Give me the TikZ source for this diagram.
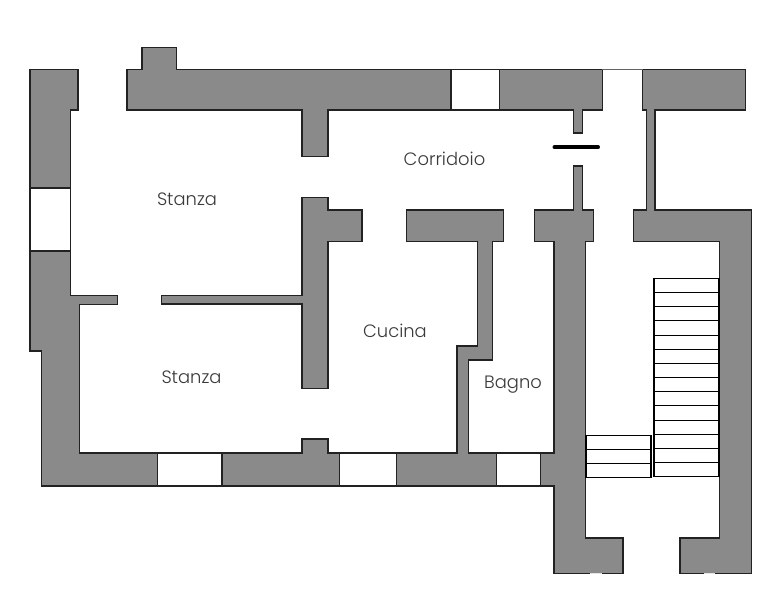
\documentclass[tikz,border=0pt]{standalone}
\usepackage{fontspec}
\setmainfont{Poppins Light}
\begin{document}
\begin{tikzpicture}[x=1pt,y=-1pt,
  wall/.style={fill=wallgray,draw=walledge,line width=1.4pt,line join=miter},
  opening/.style={fill=white,draw=walledge,line width=1.3pt},
  tread/.style={draw=black,line width=1.7pt},
  room/.style={text=labelgray,font=\fontsize{17.9}{20}\selectfont,inner sep=0pt,anchor=base},
  gap/.style={draw=gapgray,line width=1.6pt}]
\definecolor{wallgray}{HTML}{8A8A8A}
\definecolor{walledge}{HTML}{222222}
\definecolor{labelgray}{HTML}{3A3A3A}
\definecolor{gapgray}{HTML}{E4E4E4}
\useasboundingbox (0,0) rectangle (782,600);
\fill[white] (0,0) rectangle (782,600);
% outer left, bottom, partitions and central pier
\draw[wall] (30,69.5) -- (78,69.5) -- (78,110) -- (70.5,110) -- (70.5,295.5) -- (117.5,295.5) -- (117.5,304.5) -- (79.7,304.5) -- (79.7,453) -- (302,453) -- (302,439) -- (328,439) -- (328,453) -- (457,453) -- (457,346) -- (477.7,346) -- (477.7,241.7) -- (406.7,241.7) -- (406.7,210) -- (503.3,210) -- (503.3,241.7) -- (492.7,241.7) -- (492.7,360) -- (468.7,360) -- (468.7,453) -- (554,453) -- (554,241.7) -- (534.3,241.7) -- (534.3,210) -- (573.3,210) -- (573.3,166) -- (582.3,166) -- (582.3,210) -- (593.7,210) -- (593.7,241.7) -- (585.7,241.7) -- (585.7,538) -- (623,538) -- (623,573.3) -- (554,573.3) -- (554,486) -- (41.7,486) -- (41.7,351) -- (30,351) -- cycle;
% top wall
\draw[wall] (127,69.5) -- (142,69.5) -- (142,47.7) -- (176.7,47.7) -- (176.7,69.5) -- (602.3,69.5) -- (602.3,110) -- (582.3,110) -- (582.3,133) -- (573.3,133) -- (573.3,110) -- (328,110) -- (328,156.3) -- (302,156.3) -- (302,110) -- (127,110) -- cycle;
% interior wall
\draw[wall] (302,197.7) -- (328,197.7) -- (328,210) -- (362,210) -- (362,241.7) -- (328,241.7) -- (328,388.3) -- (302,388.3) -- (302,304) -- (161.3,304) -- (161.3,295.5) -- (302,295.5) -- cycle;
% right wall
\draw[wall] (642.7,69.5) -- (745.3,69.5) -- (745.3,110) -- (655,110) -- (655,210) -- (751.7,210) -- (751.7,573.3) -- (680,573.3) -- (680,538) -- (719.3,538) -- (719.3,241.7) -- (633.3,241.7) -- (633.3,210) -- (646.7,210) -- (646.7,110) -- (642.7,110) -- cycle;
% windows
\draw[opening] (30,188) rectangle (70.5,251);
\draw[opening] (451,69.5) rectangle (499.3,110);
\draw[opening] (157.3,453) rectangle (222,486);
\draw[opening] (339.3,453) rectangle (396.7,486);
\draw[opening] (496.7,453) rectangle (540.3,486);
% entrance lintel line
\coordinate (lintelA) at (602.3,69.5);
\coordinate (lintelB) at (642.7,69.5);
\draw[draw=walledge!70!white,line width=1pt] (lintelA) -- (lintelB);
% door leaf
\coordinate (leafA) at (554.5,147.3);
\coordinate (leafB) at (598,147.3);
\draw[line width=4pt,line cap=round,black] (leafA) -- (leafB);
% long stair flight
\draw[tread] (654,278.5) rectangle (719.3,476.5);
\foreach \ty in {292.5,306.5,320.5,335.5,349.5,363.5,377.5,391.5,405.5,420.5,434.5,448.5,462.5}
  \draw[tread] (654,\ty) -- (719.3,\ty);
% short stair flight
\draw[tread] (585.7,435.5) rectangle (651.3,477.5);
\foreach \ty in {449.5,463.5}
  \draw[tread] (585.7,\ty) -- (651.3,\ty);
% small breaks in the bottom edges
\draw[gap] (590,573.3) -- (601.5,573.3);
\draw[gap] (704,573.3) -- (715,573.3);
% labels
\node[room] (stanzaA) at (187,205) {Stanza};
\node[room] (stanzaB) at (191.5,383) {Stanza};
\node[room] (corridoio) at (444.5,165) {Corridoio};
\node[room] (cucina) at (395,337) {Cucina};
\node[room] (bagno) at (513,388) {Bagno};
\end{tikzpicture}
\end{document}
